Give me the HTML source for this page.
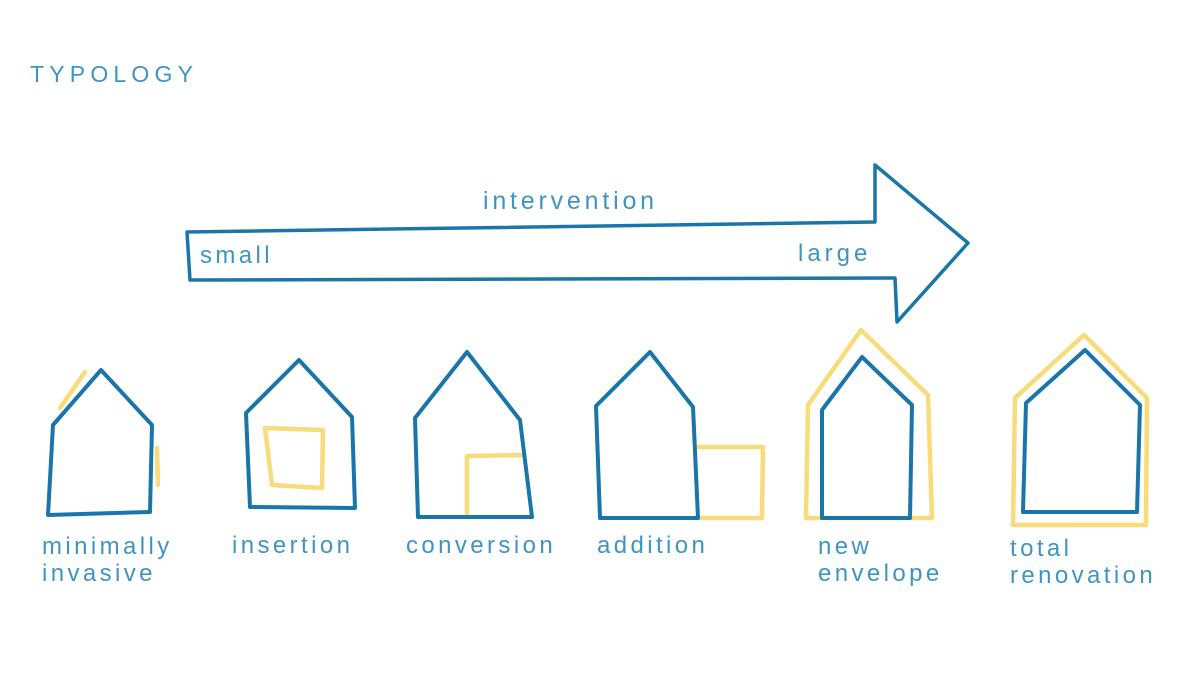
<!DOCTYPE html>
<html><head><meta charset="utf-8"><style>
html,body{margin:0;padding:0;background:#fff;width:1191px;height:674px;overflow:hidden}
svg text{font-family:"Liberation Sans",sans-serif;fill:#3e95c4}
</style></head><body>
<svg width="1191" height="674" viewBox="0 0 1191 674" xmlns="http://www.w3.org/2000/svg">
<g fill="none" stroke-linejoin="round" stroke-linecap="round">
<path d="M187,232 L875,222 L875,165 L968,243 L897,322 L895,278 L190,280 Z" stroke="#1a76a8" stroke-width="3.5"/>
<g stroke="#f8dc7c" stroke-width="4.5">
<path d="M60,408 L85,372"/>
<path d="M157,448 L158,485"/>
<path d="M265,428 L323,430 L322,488 L272,485 Z"/>
<path d="M467,517 L467,456 L522,455"/>
<path d="M696,447 L763,447 L762,518 L698,518"/>
<path d="M806,518 L808,405 L861,330 L928,395 L932,518 Z"/>
<path d="M1013,525 L1015,398 L1084,335 L1147,398 L1146,525 Z"/>
</g>
<g stroke="#1a76a8" stroke-width="4">
<path d="M48,515 L53,425 L101,370 L152,425 L150,512 Z"/>
<path d="M250,507 L246,413 L299,360 L352,417 L355,508 Z"/>
<path d="M418,517 L415,418 L467,352 L520,420 L532,517 Z"/>
<path d="M600,518 L596,406 L650,352 L693,407 L698,518 Z"/>
<path d="M822,518 L822,410 L862,357 L912,405 L910,518 Z"/>
<path d="M1023,512 L1026,403 L1085,350 L1140,405 L1137,512 Z"/>
</g>
</g>
<text x="30" y="82" font-size="23" letter-spacing="5.2">TYPOLOGY</text>
<text x="483" y="209" font-size="25" letter-spacing="3.8">intervention</text>
<text x="200" y="263" font-size="24" letter-spacing="3.4">small</text>
<text x="798" y="261" font-size="24" letter-spacing="4">large</text>
<g font-size="24" letter-spacing="3.4">
<text x="42" y="554">minimally</text>
<text x="42" y="581">invasive</text>
<text x="232" y="553">insertion</text>
<text x="406" y="553">conversion</text>
<text x="597" y="553">addition</text>
<text x="818" y="554">new</text>
<text x="818" y="581">envelope</text>
<text x="1010" y="556">total</text>
<text x="1010" y="583">renovation</text>
</g>
</svg>
</body></html>
